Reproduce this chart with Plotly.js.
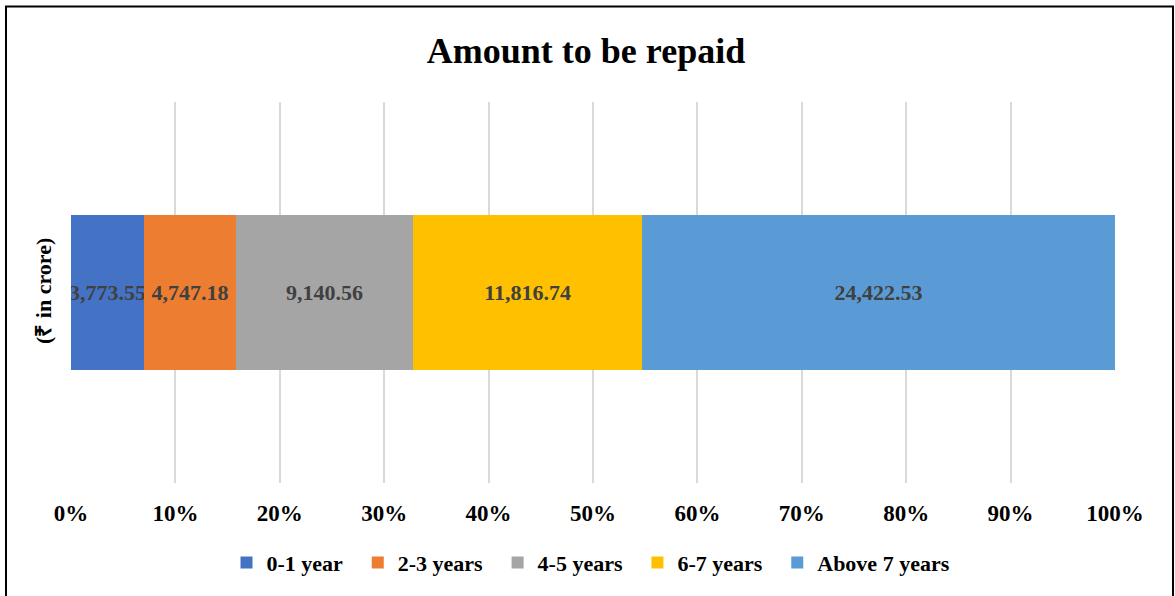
<!DOCTYPE html>
<html>
<head>
<meta charset="utf-8">
<script src="https://cdn.plot.ly/plotly-3.0.1.min.js"></script>
<style>html,body{margin:0;padding:0;background:#fff;}#chart{width:1175px;height:596px;}</style>
</head>
<body>
<div id="chart"></div>
<script>
const category = ["(₹ in crore)"];
const seriesNames = ["0-1 year", "2-3 years", "4-5 years", "6-7 years", "Above 7 years"];
const seriesValues = [3773.55, 4747.18, 9140.56, 11816.74, 24422.53];
const colors = ["#4472C4", "#ED7D31", "#A5A5A5", "#FFC000", "#5B9BD5"];
const tickVals = [0,10,20,30,40,50,60,70,80,90,100];
const tickText = ["0%","10%","20%","30%","40%","50%","60%","70%","80%","90%","100%"];

const FONT = "Liberation Serif, Times New Roman, serif";
const fmt = v => v.toLocaleString("en-US", {minimumFractionDigits: 2, maximumFractionDigits: 2});

const traces = seriesNames.map((name, i) => ({
  type: "bar",
  orientation: "h",
  name: i < seriesNames.length - 1 ? name + "\u00a0\u2009" : name,
  y: category,
  x: [seriesValues[i]],
  text: [fmt(seriesValues[i])],
  textposition: "inside",
  insidetextanchor: "middle",
  constraintext: "none",
  textangle: 0,
  textfont: {family: FONT, size: 22, color: "#404040", weight: "bold"},
  marker: {color: colors[i], line: {width: 0}},
  hoverinfo: "name+text"
}));

const layout = {
  width: 1175, height: 596,
  paper_bgcolor: "#fff", plot_bgcolor: "#fff",
  margin: {l: 71, r: 60, t: 102, b: 111},
  barmode: "stack",
  barnorm: "percent",
  bargap: 0.595,
  font: {family: FONT, color: "#000"},
  title: {text: "<b>Amount to be repaid</b>", font: {family: FONT, size: 36, color: "#000"},
          x: (586-71)/1044, xanchor: "center", y: 1 - 50/596, yanchor: "middle", xref: "paper"},
  xaxis: {range: [0, 100], tickvals: tickVals, ticktext: tickText, showgrid: true,
          gridcolor: "#d9d9d9", gridwidth: 2, zeroline: false, showline: false, ticks: "",
          tickfont: {family: FONT, size: 23, color: "#000", weight: "bold"}, fixedrange: true,
          ticklabelstandoff: 14},
  yaxis: {showticklabels: false, showgrid: false, zeroline: false, showline: false, ticks: "", fixedrange: true},
  showlegend: true,
  legend: {orientation: "h", x: (591-71)/1044, xanchor: "center", y: (485-565)/383, yanchor: "middle",
           traceorder: "normal", font: {family: FONT, size: 22, color: "#000", weight: "bold"},
           itemwidth: 30, bgcolor: "rgba(0,0,0,0)"},
  annotations: [{
    text: "<b>(₹ in crore)</b>", textangle: -90, xref: "paper", yref: "paper",
    x: (43-71)/1044, y: (485-292)/383, xanchor: "center", yanchor: "middle",
    showarrow: false, font: {family: FONT, size: 22, color: "#000"}
  }],
  shapes: [{
    type: "rect", xref: "paper", yref: "paper",
    x0: (6-71)/1044, x1: (1173-71)/1044, y0: (485-640)/383, y1: (485-6)/383,
    line: {color: "#000", width: 2}, fillcolor: "rgba(0,0,0,0)", layer: "above"
  }]
};

Plotly.newPlot("chart", traces, layout, {displayModeBar: false});
</script>
</body>
</html>
